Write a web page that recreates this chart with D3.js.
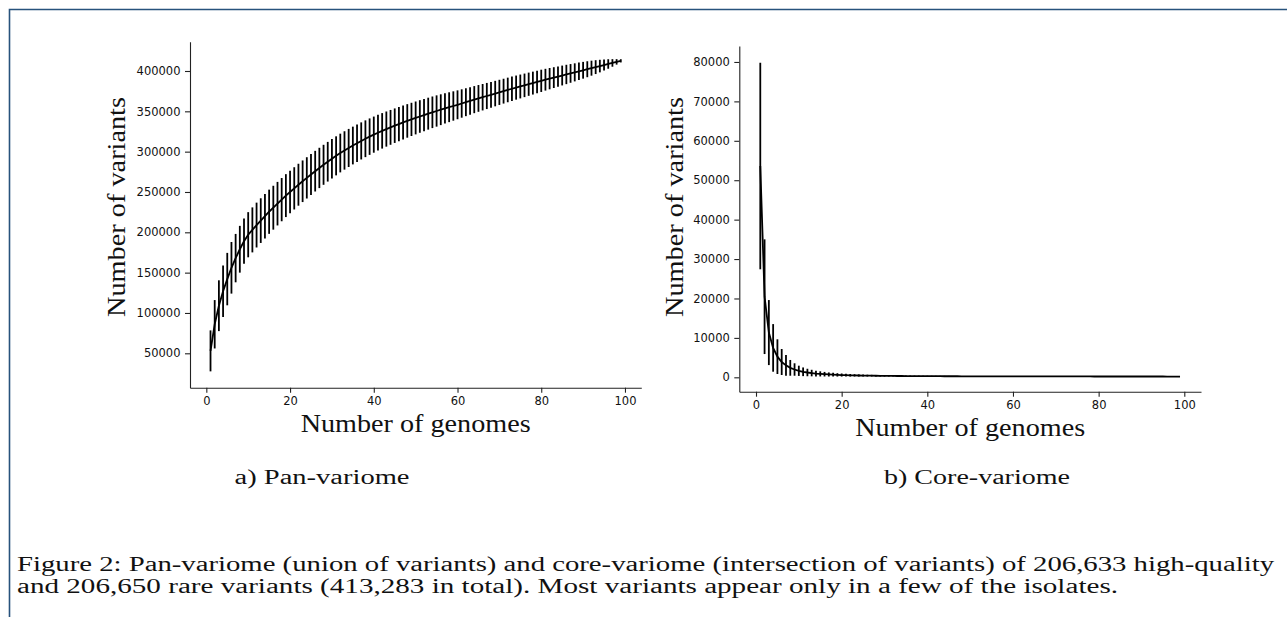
<!DOCTYPE html>
<html><head><meta charset="utf-8">
<title>Pan-variome and core-variome</title>
<script src="https://d3js.org/d3.v7.min.js"></script>
<style>
  body { margin: 0; background: #fff; }
  svg { display: block; }
  .tick text { font-family: "DejaVu Sans", sans-serif; font-size: 11.5px; fill: #111; }
  .tick line, .domain { stroke: #222; stroke-width: 1.1; }
  .serif { font-family: "Liberation Serif", "Times New Roman", serif; fill: #111; }
  .errbar { stroke: #000; stroke-width: 1.8; }
  .meanline { fill: none; stroke: #000; stroke-width: 1.8; }
</style>
</head>
<body>
<svg width="1287" height="617"></svg>
<script>
  //begin: data
  var genomes = d3.range(1, 100);   // 1..99 genomes

  var panMean = [
    53000, 86000, 109000, 127000, 142000, 156000, 168000, 179000, 189000, 197000,
    203000, 209000, 214500, 220000, 225500, 230500, 235500, 240500, 245500, 250000,
    254500, 259000, 263300, 267500, 271700, 275800, 279800, 283700, 287500, 291200,
    294800, 298300, 301500, 304600, 307600, 310500, 313300, 316000, 318600, 321100,
    323500, 325800, 328000, 330100, 332200, 334200, 336200, 338100, 340000, 341800,
    343600, 345400, 347100, 348800, 350400, 352000, 353600, 355100, 356600, 358100,
    359700, 361300, 362900, 364500, 366000, 367500, 369000, 370500, 372000, 373500,
    375000, 376500, 378000, 379400, 380800, 382200, 383600, 385000, 386400, 387800,
    389200, 390500, 391800, 393100, 394400, 395700, 397000, 398300, 399600, 400900,
    402200, 403500, 404800, 406100, 407400, 408700, 410000, 411300, 412600];
  var panErr = [
    25400, 30000, 31500, 32000, 32500, 32000, 30000, 29000, 28000, 28000,
    27900, 27800, 27700, 27600, 27400, 27200, 27000, 26800, 26600, 26400,
    26200, 26000, 25800, 25600, 25400, 25200, 25000, 24800, 24600, 24400,
    24200, 24000, 23800, 23600, 23400, 23200, 23000, 22800, 22600, 22400,
    22200, 22000, 21800, 21600, 21400, 21200, 21000, 20800, 20600, 20400,
    20200, 20000, 19800, 19600, 19400, 19100, 18800, 18500, 18200, 17900,
    17600, 17300, 17000, 16800, 16600, 16400, 16200, 16000, 15800, 15600,
    15400, 15250, 15100, 14950, 14800, 14600, 14400, 14200, 14000, 13800,
    13500, 13200, 12900, 12600, 12300, 12000, 11600, 11200, 10800, 10400,
    9900, 9300, 8600, 7800, 6900, 5900, 4700, 3400, 2000];

  var coreMean = [
    53600, 20450, 11350, 7460, 5240, 3880, 3030, 2400, 1980, 1650,
    1400, 1220, 1080, 960, 870, 790, 720, 670, 620, 580,
    545, 515, 490, 465, 445, 425, 410, 395, 380, 368,
    357, 347, 338, 330, 322, 315, 309, 303, 297, 292,
    287, 283, 279, 275, 271, 268, 265, 262, 259, 256,
    254, 251, 249, 247, 245, 243, 241, 239, 237, 235,
    234, 232, 231, 229, 228, 226, 225, 224, 222, 221,
    220, 219, 218, 217, 216, 215, 214, 213, 212, 211,
    210, 209, 208, 207, 207, 206, 205, 204, 204, 203,
    202, 202, 201, 200, 200, 199, 199, 198, 198];
  var coreErr = [
    26200, 14550, 8250, 6040, 4400, 3300, 2630, 2000, 1580, 1300,
    1100, 950, 830, 730, 650, 580, 520, 470, 430, 390,
    355, 325, 300, 275, 255, 235, 220, 205, 190, 178,
    167, 157, 148, 140, 132, 125, 118, 112, 106, 100,
    95, 90, 86, 82, 78, 74, 70, 67, 64, 61,
    58, 55, 52, 50, 47, 45, 43, 41, 39, 37,
    35, 33, 31, 30, 28, 27, 25, 24, 22, 21,
    20, 19, 18, 17, 16, 15, 14, 13, 12, 11,
    10, 9, 9, 8, 7, 7, 6, 5, 5, 4,
    4, 3, 3, 2, 2, 1, 1, 1, 0];

  var xTicks = [0, 20, 40, 60, 80, 100];
  var panTicks = [50000, 100000, 150000, 200000, 250000, 300000, 350000, 400000];
  var coreTicks = [0, 10000, 20000, 30000, 40000, 50000, 60000, 70000, 80000];

  var xLabel = "Number of genomes",
      yLabel = "Number of variants";
  var subCaptions = ["a) Pan-variome", "b) Core-variome"];
  var captionLines = [
    "Figure 2: Pan-variome (union of variants) and core-variome (intersection of variants) of 206,633 high-quality",
    "and 206,650 rare variants (413,283 in total). Most variants appear only in a few of the isolates."
  ];
  //end: data

  var svg = d3.select("svg");
  svg.append("rect").attr("width", 1287).attr("height", 617).attr("fill", "#fff");

  // page frame (top and left edge)
  svg.append("path")
    .attr("d", "M9.5,617 V9.5 H1287")
    .attr("fill", "none").attr("stroke", "#27527c").attr("stroke-width", 1.6);

  //begin: panels layout conf.
  var panels = [
    { mean: panMean, err: panErr, ticks: panTicks,
      x0: 190, x1: 641.3, y0: 387.7, y1: 41.7, yDomain: [7350, 436320],
      yLabelX: 125, xLabelY: 432, xLabelSize: 26, sub: subCaptions[0], subX: 322, subW: 175 },
    { mean: coreMean, err: coreErr, ticks: coreTicks,
      x0: 739.3, x1: 1201, y0: 391.7, y1: 46, yDomain: [-3650, 84050],
      yLabelX: 683, xLabelY: 436, xLabelSize: 25, sub: subCaptions[1], subX: 977, subW: 186 }
  ];
  //end: panels layout conf.

  panels.forEach(function(p) {
    var x = d3.scaleLinear().domain([-3.9, 103.9]).range([p.x0, p.x1]);
    var y = d3.scaleLinear().domain(p.yDomain).range([p.y0, p.y1]);
    var g = svg.append("g");

    g.append("g")
      .attr("transform", "translate(0," + p.y0 + ")")
      .call(d3.axisBottom(x).tickValues(xTicks).tickSize(5).tickSizeOuter(0).tickPadding(4));
    g.append("g")
      .attr("transform", "translate(" + p.x0 + ",0)")
      .call(d3.axisLeft(y).tickValues(p.ticks).tickSize(5).tickSizeOuter(0).tickPadding(4.5)
        .tickFormat(d3.format("d")));

    // error bars
    g.selectAll(".errbar")
      .data(genomes)
      .enter().append("line")
        .attr("class", "errbar")
        .attr("x1", function(d) { return x(d); })
        .attr("x2", function(d) { return x(d); })
        .attr("y1", function(d, i) { return y(p.mean[i] - p.err[i]); })
        .attr("y2", function(d, i) { return y(p.mean[i] + p.err[i]); });

    // mean curve
    g.append("path")
      .datum(genomes)
      .attr("class", "meanline")
      .attr("d", d3.line()
        .x(function(d) { return x(d); })
        .y(function(d, i) { return y(p.mean[i]); }));

    // axis labels
    g.append("text").attr("class", "serif")
      .attr("x", (p.x0 + p.x1) / 2).attr("y", p.xLabelY)
      .attr("text-anchor", "middle").attr("font-size", p.xLabelSize)
      .attr("textLength", 230).attr("lengthAdjust", "spacingAndGlyphs").text(xLabel);
    g.append("text").attr("class", "serif")
      .attr("transform", "translate(" + p.yLabelX + ",207) rotate(-90)")
      .attr("text-anchor", "middle").attr("font-size", 26)
      .attr("textLength", 220).attr("lengthAdjust", "spacingAndGlyphs").text(yLabel);

    // sub caption
    g.append("text").attr("class", "serif")
      .attr("x", p.subX).attr("y", 484)
      .attr("text-anchor", "middle").attr("font-size", 20)
      .attr("textLength", p.subW).attr("lengthAdjust", "spacingAndGlyphs")
      .text(p.sub);
  });

  // figure caption
  svg.append("text").attr("class", "serif")
    .attr("x", 17).attr("y", 571).attr("font-size", 20)
    .attr("textLength", 1257).attr("lengthAdjust", "spacingAndGlyphs").text(captionLines[0]);
  svg.append("text").attr("class", "serif")
    .attr("x", 17).attr("y", 593).attr("font-size", 20)
    .attr("textLength", 1101).attr("lengthAdjust", "spacingAndGlyphs").text(captionLines[1]);
</script>
</body></html>
